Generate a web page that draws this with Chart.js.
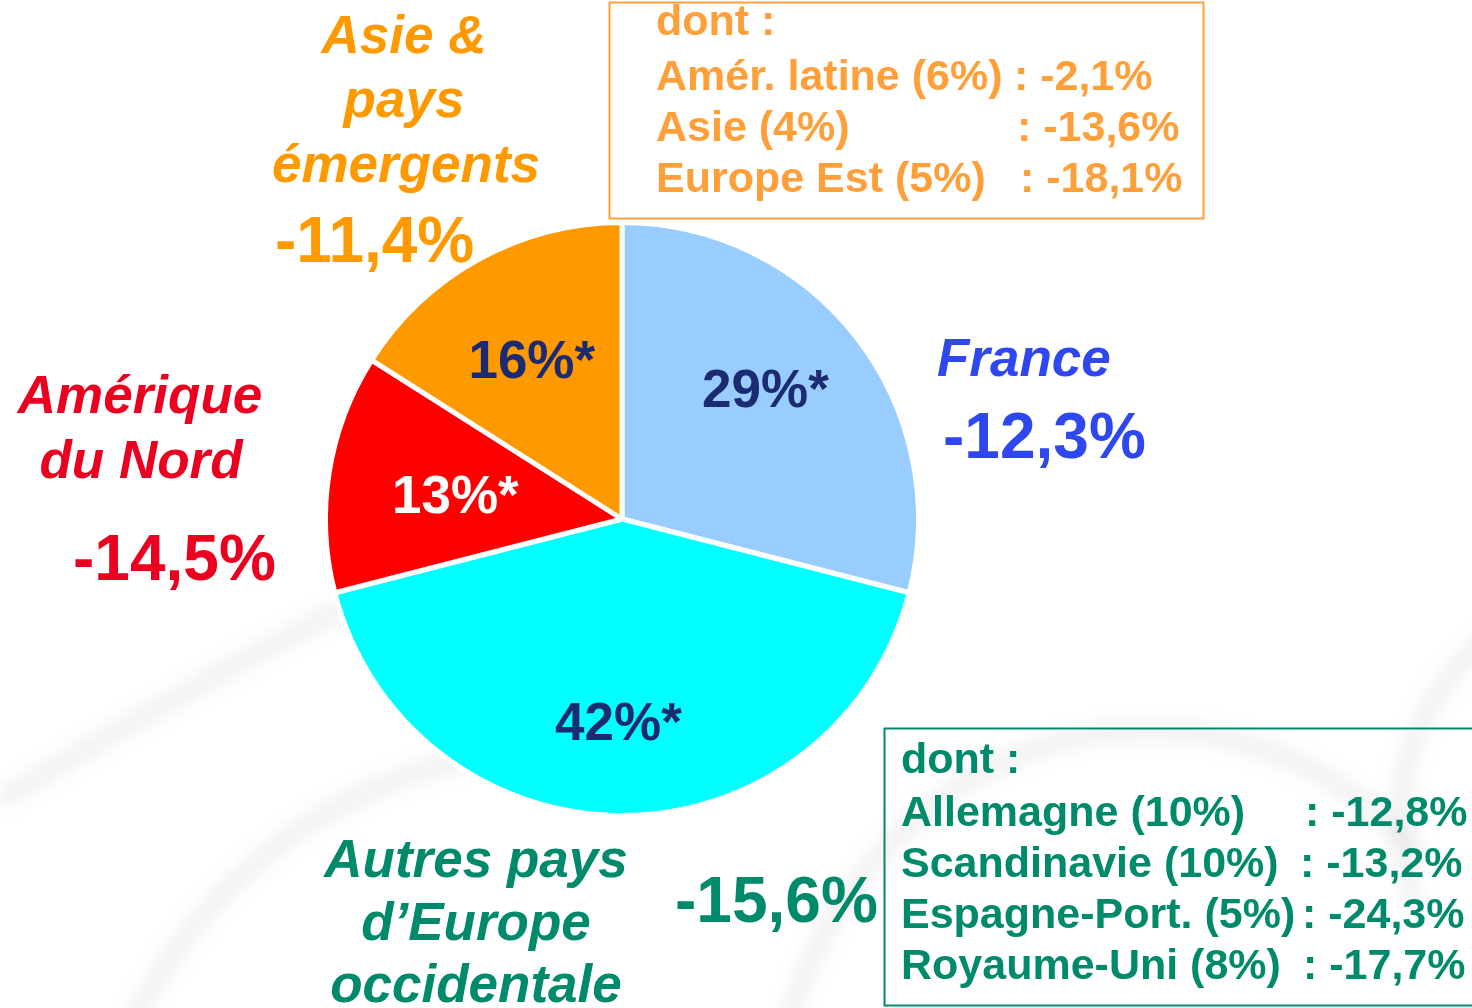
<!DOCTYPE html>
<html>
<head>
<meta charset="utf-8">
<script src="https://cdn.jsdelivr.net/npm/chart.js@4.4.0/dist/chart.umd.min.js"></script>
<style>
  html, body { margin: 0; padding: 0; background: #fff; }
  #wrap { position: relative; width: 1472px; height: 1008px; overflow: hidden; }
  canvas { display: block; }
</style>
</head>
<body>
<div id="wrap"><canvas id="chart" width="1472" height="1008"></canvas></div>
<script>
// Data
const regions = ['France', 'Autres pays d\u2019Europe occidentale', 'Amérique du Nord', 'Asie & pays émergents'];
const shares = [29, 42, 13, 16];
const changes = ['-12,3%', '-15,6%', '-14,5%', '-11,4%'];

const asiaDetailNames = ['Amér. latine (6%)', 'Asie (4%)', 'Europe Est (5%)'];
const asiaDetailValues = ['-2,1%', '-13,6%', '-18,1%'];
const europeDetailNames = ['Allemagne (10%)', 'Scandinavie (10%)', 'Espagne-Port. (5%)', 'Royaume-Uni (8%)'];
const europeDetailValues = ['-12,8%', '-13,2%', '-24,3%', '-17,7%'];

const sliceColors = ['#99CCFF', '#00FFFF', '#FF0000', '#FF9900'];
const labelColors = ['#1C2A72', '#1C2A72', '#FFFFFF', '#1C2A72'];

const FONT = '"Liberation Sans", Arial, sans-serif';

function txt(ctx, s, x, y, size, color, opts = {}) {
  ctx.save();
  ctx.font = (opts.italic ? 'italic ' : '') + 'bold ' + size + 'px ' + FONT;
  ctx.fillStyle = color;
  ctx.textAlign = opts.align || 'left';
  ctx.textBaseline = 'alphabetic';
  ctx.fillText(s, x, y);
  ctx.restore();
}

// faint grey swooshes in the background
const backdrop = {
  id: 'backdrop',
  beforeDraw(chart) {
    const ctx = chart.ctx;
    ctx.save();
    ctx.strokeStyle = 'rgba(200,200,200,0.22)';
    ctx.lineWidth = 22;
    ctx.filter = 'blur(8px)';
    ctx.beginPath();
    ctx.ellipse(1150, 1150, 380, 420, 0, Math.PI * 1.05, Math.PI * 1.75);
    ctx.stroke();
    ctx.beginPath();
    ctx.ellipse(560, 1250, 480, 500, 0, Math.PI * 1.1, Math.PI * 1.6);
    ctx.stroke();
    ctx.beginPath();
    ctx.ellipse(1700, 820, 300, 260, 0, Math.PI * 0.9, Math.PI * 1.4);
    ctx.stroke();
    ctx.beginPath();
    ctx.moveTo(0, 800);
    ctx.quadraticCurveTo(200, 680, 360, 600);
    ctx.stroke();
    ctx.restore();
  }
};

// where each percentage sits inside its slice (fraction of radius, angle nudge in degrees)
const labelRadius = [0.652, 0.686, 0.568, 0.618];
const labelTurn = [-4.3, 1, -0.8, -0.7];

// labels inside slices, region names, and the detail boxes
const annotations = {
  id: 'annotations',
  afterDraw(chart) {
    const ctx = chart.ctx;
    const meta = chart.getDatasetMeta(0);

    meta.data.forEach((arc, i) => {
      const p = arc.getProps(['x', 'y', 'startAngle', 'endAngle', 'outerRadius']);
      const mid = (p.startAngle + p.endAngle) / 2 + labelTurn[i] * Math.PI / 180;
      const r = p.outerRadius * labelRadius[i];
      const x = p.x + Math.cos(mid) * r;
      const y = p.y + Math.sin(mid) * r;
      txt(ctx, shares[i] + '%*', x, y + 18, 53, labelColors[i], { align: 'center' });
    });

    // France
    txt(ctx, 'France', 937, 376, 53, '#2F47EE', { italic: true });
    txt(ctx, changes[0], 943, 458, 64, '#2F47EE');

    // Autres pays d'Europe occidentale
    const teal = '#008A6C';
    txt(ctx, 'Autres pays', 476, 877, 53, teal, { italic: true, align: 'center' });
    txt(ctx, 'd\u2019Europe', 476, 940, 53, teal, { italic: true, align: 'center' });
    txt(ctx, 'occidentale', 476, 1002, 53, teal, { italic: true, align: 'center' });
    txt(ctx, changes[1], 675, 922, 64, teal);

    // Amérique du Nord
    const red = '#EC0020';
    txt(ctx, 'Amérique', 140, 413, 53, red, { italic: true, align: 'center' });
    txt(ctx, 'du Nord', 141, 478, 53, red, { italic: true, align: 'center' });
    txt(ctx, changes[2], 73, 580, 64, red);

    // Asie & pays émergents
    const orange = '#FF9900';
    txt(ctx, 'Asie &', 404, 53, 53, orange, { italic: true, align: 'center' });
    txt(ctx, 'pays', 404, 117, 53, orange, { italic: true, align: 'center' });
    txt(ctx, 'émergents', 406, 182, 53, orange, { italic: true, align: 'center' });
    txt(ctx, changes[3], 275, 262, 64, orange);

    // orange detail box
    const lightOrange = '#FF9F3A';
    ctx.save();
    ctx.strokeStyle = lightOrange;
    ctx.lineWidth = 2;
    ctx.strokeRect(609.5, 2.5, 594, 216);
    ctx.restore();
    txt(ctx, 'dont :', 656, 35, 43, lightOrange);
    const asiaColon = [1014, 1017, 1020];
    asiaDetailNames.forEach((n, i) => {
      const y = 90 + i * 51;
      txt(ctx, n, 656, y, 43, lightOrange);
      txt(ctx, ': ' + asiaDetailValues[i], asiaColon[i], y, 43, lightOrange);
    });

    // green detail box
    ctx.save();
    ctx.strokeStyle = teal;
    ctx.lineWidth = 2;
    ctx.strokeRect(884.5, 728.5, 620, 277);
    ctx.restore();
    txt(ctx, 'dont :', 901, 773, 43, teal);
    const euroColon = [1305, 1300, 1302, 1303];
    europeDetailNames.forEach((n, i) => {
      const y = 826 + i * 51;
      txt(ctx, n, 901, y, 43, teal);
      txt(ctx, ': ' + europeDetailValues[i], euroColon[i], y, 43, teal);
    });
  }
};

new Chart(document.getElementById('chart').getContext('2d'), {
  type: 'pie',
  data: {
    labels: regions,
    datasets: [{
      data: shares,
      backgroundColor: sliceColors,
      borderColor: '#FFFFFF',
      borderWidth: 5,
      hoverOffset: 0
    }]
  },
  options: {
    responsive: false,
    animation: false,
    layout: { padding: { left: 323, right: 551, top: 220, bottom: 190 } },
    plugins: {
      legend: { display: false },
      tooltip: { enabled: false }
    }
  },
  plugins: [backdrop, annotations]
});
</script>
</body>
</html>
